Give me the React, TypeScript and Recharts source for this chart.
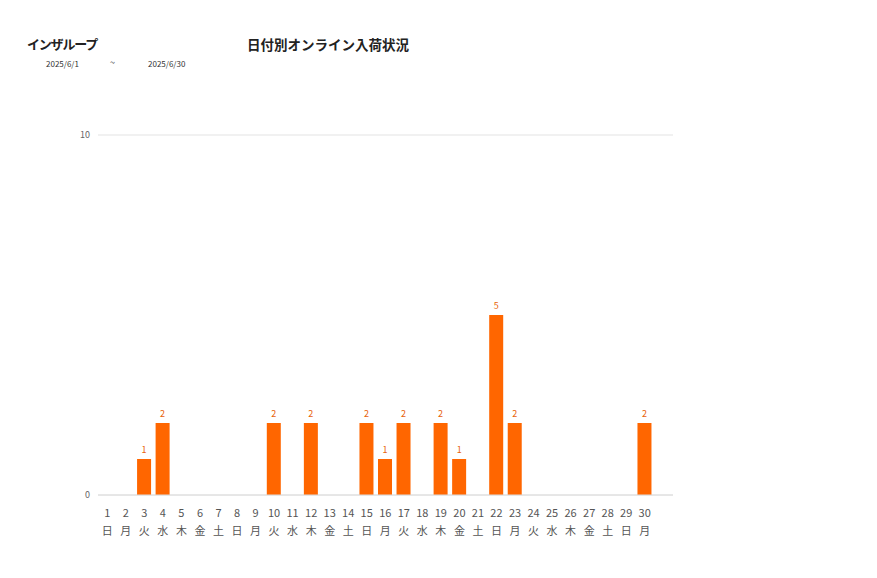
import React from 'react';
import { BarChart, Bar, XAxis, YAxis, CartesianGrid, LabelList } from 'recharts';

const days = Array.from({ length: 30 }, (_, i) => String(i + 1));
const weekdays = [
  '日', '月', '火', '水', '木', '金', '土',
  '日', '月', '火', '水', '木', '金', '土',
  '日', '月', '火', '水', '木', '金', '土',
  '日', '月', '火', '水', '木', '金', '土',
  '日', '月',
];
const counts = [0, 0, 1, 2, 0, 0, 0, 0, 0, 2, 0, 2, 0, 0, 2, 1, 2, 0, 2, 1, 0, 5, 2, 0, 0, 0, 0, 0, 0, 2];
const yTicks = [0, 10];

const FONT = '"Noto Sans CJK JP", "Noto Sans", sans-serif';

const data = days.map((d, i) => ({ day: d, weekday: weekdays[i], value: counts[i] }));

const DayTick = ({ x, y, payload, index }: any) => (
  <g transform={`translate(${x},${y})`}>
    <text x={0} y={14} textAnchor="middle" fill="#555" fontSize={11} fontFamily={FONT}>
      {payload.value}
    </text>
    <text x={0} y={32} textAnchor="middle" fill="#555" fontSize={11} fontFamily={FONT}>
      {weekdays[index]}
    </text>
  </g>
);

export default function App() {
  return (
    <div style={{ position: 'relative', width: 869, height: 562, fontFamily: FONT }}>
      <div style={{ position: 'absolute', left: 19, top: 26, fontSize: 13, fontWeight: 'bold', color: '#222', letterSpacing: -1.2 }}>
        インザループ
      </div>
      <div style={{ position: 'absolute', left: 239, top: 26, fontSize: 13.5, fontWeight: 'bold', color: '#222' }}>
        日付別オンライン入荷状況
      </div>
      <div style={{ position: 'absolute', left: 38, top: 50, fontSize: 8, color: '#333' }}>2025/6/1</div>
      <div style={{ position: 'absolute', left: 102, top: 48, fontSize: 9, color: '#333' }}>~</div>
      <div style={{ position: 'absolute', left: 140, top: 50, fontSize: 8, color: '#333' }}>2025/6/30</div>
      <div style={{ position: 'absolute', left: 0, top: 0 }}>
        <BarChart
          width={700}
          height={560}
          data={data}
          margin={{ top: 127, right: 35, bottom: 23, left: 40 }}
        >
          <CartesianGrid vertical={false} stroke="#e3e3e3" />
          <XAxis
            dataKey="day"
            interval={0}
            tickLine={false}
            axisLine={{ stroke: '#dcdcdc' }}
            height={50}
            padding={{ left: 0, right: 19 }}
            tick={<DayTick />}
          />
          <YAxis
            width={50}
            domain={[0, 10]}
            ticks={yTicks}
            tickLine={false}
            axisLine={false}
            tick={{ fontSize: 9, fill: '#666', fontFamily: FONT }}
          />
          <Bar dataKey="value" fill="#ff6600" barSize={14} isAnimationActive={false}>
            <LabelList
              dataKey="value"
              position="top"
              offset={6}
              fill="#e8630a"
              fontSize={9}
              fontFamily={FONT}
              formatter={(v: any) => (v ? v : '')}
            />
          </Bar>
        </BarChart>
      </div>
    </div>
  );
}
